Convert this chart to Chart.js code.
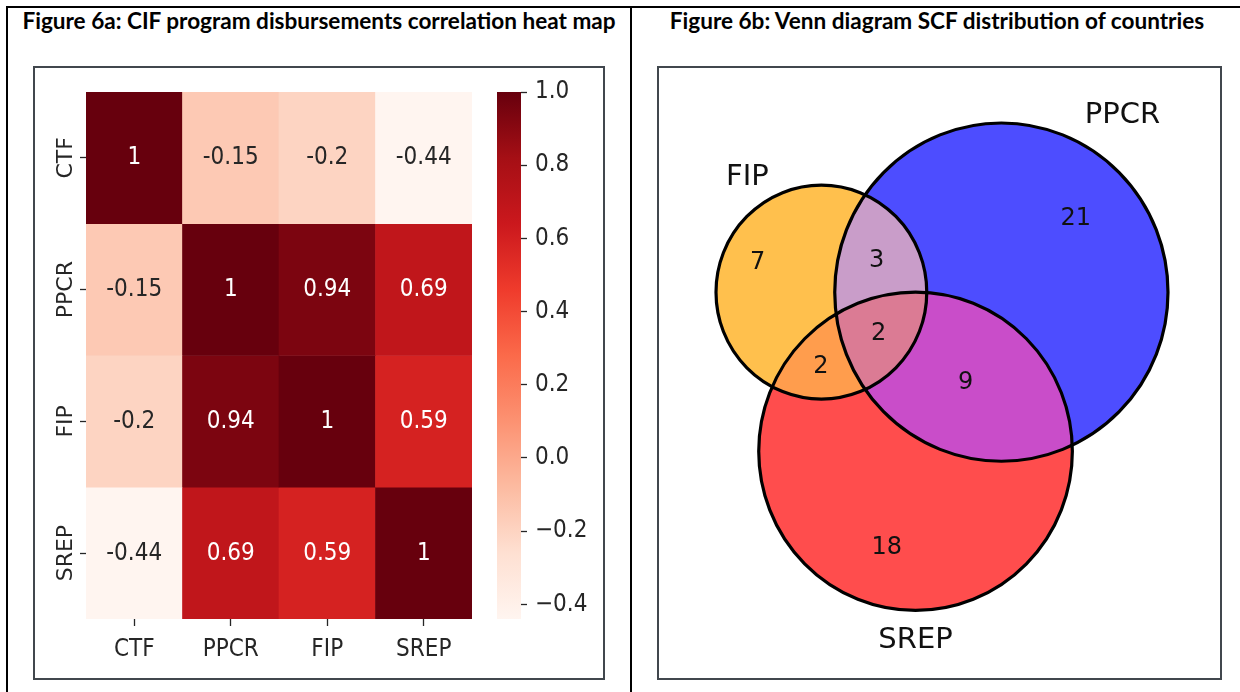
<!DOCTYPE html>
<html><head><meta charset="utf-8">
<script src="https://cdn.jsdelivr.net/npm/chart.js@4.4.1/dist/chart.umd.min.js"></script>
<style>
html,body{margin:0;padding:0;background:#fff;}
body{width:1240px;height:692px;overflow:hidden;position:relative;}
.line{position:absolute;background:#000;}
.title{position:absolute;font-family:Lato,'Liberation Sans',sans-serif;font-weight:700;white-space:nowrap;color:#000;line-height:1;transform:translateX(-50%);}
.frame{position:absolute;border:2px solid #41474d;box-sizing:border-box;}
.box{position:absolute;}
</style></head><body>
<div class="line" style="left:6px;top:6px;width:1240px;height:2px"></div>
<div class="line" style="left:6px;top:6px;width:2px;height:700px"></div>
<div class="line" style="left:630px;top:6px;width:2px;height:700px"></div>
<div class="title" id="t1" style="left:319px"></div>
<div class="title" id="t2" style="left:937px"></div>
<div class="frame" style="left:33px;top:66px;width:572px;height:614px"></div>
<div class="frame" style="left:657px;top:66px;width:565px;height:614px"></div>
<div class="box" style="left:35px;top:68px;width:569px;height:610px"><canvas id="heat"></canvas></div>
<div class="box" style="left:480px;top:68px;width:122px;height:610px"><canvas id="cbar"></canvas></div>
<div class="box" style="left:659px;top:68px;width:562px;height:610px"><canvas id="venn"></canvas></div>
<script>
// ---------------- data ----------------
const titleA = 'Figure 6a: CIF program disbursements correlation heat map';
const titleB = 'Figure 6b: Venn diagram SCF distribution of countries';
const programs = ['CTF', 'PPCR', 'FIP', 'SREP'];
const corrCTF  = [1, -0.15, -0.2, -0.44];
const corrPPCR = [-0.15, 1, 0.94, 0.69];
const corrFIP  = [-0.2, 0.94, 1, 0.59];
const corrSREP = [-0.44, 0.69, 0.59, 1];
const colorbarTicks = [1.0, 0.8, 0.6, 0.4, 0.2, 0.0, -0.2, -0.4];
const vennSetLabels = ['FIP', 'PPCR', 'SREP'];
const vennRegionKeys = ['100', '010', '110', '001', '101', '011', '111'];
const vennRegionCounts = [7, 21, 3, 18, 2, 9, 2];

// ---------------- styles ----------------
const COND = "'DejaVu Sans Condensed','DejaVu Sans',sans-serif";
const DJV = "'DejaVu Sans',sans-serif";
const TXT = '#262626';
const HFS = 24;
Chart.defaults.font.family = COND;
Chart.defaults.color = TXT;
Chart.defaults.animation = false;
Chart.defaults.events = [];
Chart.defaults.plugins.legend.display = false;
Chart.defaults.plugins.tooltip.enabled = false;

// titles
(function(){
  const t1 = document.getElementById('t1'), t2 = document.getElementById('t2');
  t1.textContent = titleA; t2.textContent = titleB;
  const mc = document.createElement('canvas').getContext('2d');
  mc.font = "700 100px Lato, 'Liberation Sans', sans-serif";
  const w = mc.measureText(titleA).width;
  const fs = 100 * 594 / w;
  [t1, t2].forEach(t => { t.style.fontSize = fs + 'px'; t.style.top = (21.5 - 0.529 * fs) + 'px'; });
})();

// ---------------- heat map ----------------
const REDS = [[255,245,240],[254,224,210],[252,187,161],[252,146,114],[251,106,74],[239,59,44],[203,24,29],[165,15,21],[103,0,13]];
function reds(t){
  t = Math.max(0, Math.min(1, t));
  const p = t * 8, i = Math.min(7, Math.floor(p)), f = p - i;
  return REDS[i].map((v, k) => v + (REDS[i+1][k] - v) * f);
}
const css = c => `rgb(${c.map(Math.round).join(',')})`;
const matrix = [corrCTF, corrPPCR, corrFIP, corrSREP];
const allVals = matrix.flat();
const vmin = Math.min(...allVals), vmax = Math.max(...allVals);
const norm = v => (v - vmin) / (vmax - vmin);
function lum(c){
  const l = c.map(v => { v /= 255; return v <= 0.03928 ? v / 12.92 : Math.pow((v + 0.055) / 1.055, 2.4); });
  return 0.2126 * l[0] + 0.7152 * l[1] + 0.0722 * l[2];
}
const fmt2g = v => Number(v.toPrecision(2)).toString();

const annotPlugin = {
  id: 'annot',
  afterDatasetsDraw(chart){
    const ctx = chart.ctx; const fs = HFS;
    ctx.save();
    ctx.font = `${fs}px ${COND}`; ctx.textAlign = 'center'; ctx.textBaseline = 'alphabetic';
    matrix.forEach((row, r) => {
      const meta = chart.getDatasetMeta(r);
      row.forEach((v, c) => {
        const pt = meta.data[c].getCenterPoint();
        ctx.fillStyle = lum(reds(norm(v))) > 0.408 ? TXT : '#ffffff';
        ctx.fillText(fmt2g(v), pt.x, pt.y + 0.27 * fs);
      });
    });
    ctx.restore();
  }
};

new Chart(document.getElementById('heat'), {
  type: 'bar',
  data: {
    labels: programs,
    datasets: matrix.map((row, r) => ({
      label: programs[r],
      data: row.map(() => [r, r + 1]),
      backgroundColor: row.map(v => css(reds(norm(v)))),
      borderWidth: 0, barPercentage: 1, categoryPercentage: 1, grouped: false
    }))
  },
  options: {
    responsive: true, maintainAspectRatio: false,
    layout: { padding: { left: 0, right: 132, top: 24, bottom: 0 } },
    scales: {
      x: {
        offset: true,
        grid: { display: true, offset: false, drawOnChartArea: false, drawTicks: true, tickLength: 7, tickWidth: 1.3, tickColor: TXT },
        border: { display: false },
        ticks: { font: { size: HFS }, padding: 9, maxRotation: 0, autoSkip: false },
        afterFit(s){ s.height = 59; }
      },
      y: {
        type: 'linear', min: 0, max: 4, reverse: true,
        afterBuildTicks(s){ s.ticks = programs.map((_, i) => ({ value: i + 0.5 })); },
        grid: { display: true, drawOnChartArea: false, drawTicks: true, tickLength: 6, tickWidth: 1.3, tickColor: TXT },
        border: { display: false },
        ticks: { callback: (v, i) => programs[i], minRotation: 90, maxRotation: 90, crossAlign: 'center', padding: -15, autoSkip: false, font: { family: DJV, size: 22 } },
        afterFit(s){ s.width = 51; }
      }
    }
  },
  plugins: [annotPlugin]
});

// ---------------- colorbar ----------------
new Chart(document.getElementById('cbar'), {
  type: 'bar',
  data: {
    labels: ['corr'],
    datasets: [{
      data: [[vmin, vmax]],
      backgroundColor(ctx){
        const ch = ctx.chart; if (!ch.chartArea) return '#fff';
        const y = ch.scales.y;
        const g = ch.ctx.createLinearGradient(0, y.getPixelForValue(vmin), 0, y.getPixelForValue(vmax));
        REDS.forEach((c, i) => g.addColorStop(i / 8, css(c)));
        return g;
      },
      borderWidth: 0, barPercentage: 1, categoryPercentage: 1
    }]
  },
  options: {
    responsive: true, maintainAspectRatio: false,
    layout: { padding: { left: 17, right: 0, top: 24, bottom: 59 } },
    scales: {
      x: { display: false },
      y: {
        position: 'right', min: vmin, max: vmax,
        afterBuildTicks(s){ s.ticks = colorbarTicks.filter(v => v >= vmin && v <= vmax).map(v => ({ value: v })); },
        grid: { display: true, drawOnChartArea: false, drawTicks: true, tickLength: 6, tickWidth: 1.3, tickColor: TXT },
        border: { display: false },
        ticks: { padding: 8, font: { size: HFS }, callback: v => (v < 0 ? '\u2212' : '') + Math.abs(v).toFixed(1) },
        afterFit(s){ s.width = 81; }
      }
    }
  }
});

// ---------------- Venn (area-proportional, matplotlib_venn style) ----------------
const S = vennRegionCounts;
const setArea = [S[0]+S[2]+S[4]+S[6], S[1]+S[2]+S[5]+S[6], S[3]+S[4]+S[5]+S[6]];
const vennRadii = setArea.map(a => Math.sqrt(a / Math.PI));
function lensArea(r1, r2, d){
  if (d >= r1 + r2) return 0;
  if (d <= Math.abs(r1 - r2)) return Math.PI * Math.min(r1, r2) ** 2;
  const a1 = Math.acos((d*d + r1*r1 - r2*r2) / (2*d*r1));
  const a2 = Math.acos((d*d + r2*r2 - r1*r1) / (2*d*r2));
  return r1*r1*a1 + r2*r2*a2 - 0.5*Math.sqrt((-d+r1+r2)*(d+r1-r2)*(d-r1+r2)*(d+r1+r2));
}
function findDist(r1, r2, area){
  let lo = Math.abs(r1 - r2), hi = r1 + r2;
  for (let k = 0; k < 200; k++){ const m = (lo + hi) / 2; if (lensArea(r1, r2, m) > area) lo = m; else hi = m; }
  return (lo + hi) / 2;
}
const [rA, rB, rC] = vennRadii;
const dAB = findDist(rA, rB, S[2] + S[6]);
const dAC = findDist(rA, rC, S[4] + S[6]);
const dBC = findDist(rB, rC, S[5] + S[6]);
const cxC = (dAC*dAC - dBC*dBC + dAB*dAB) / (2*dAB);
const cyC = -Math.sqrt(Math.max(0, dAC*dAC - cxC*cxC));
const vennCenters = [[0, 0], [dAB, 0], [cxC, cyC]];

// region label positions (arc-midpoint heuristic)
function regionLabel(key){
  const mask = key.split('').map(ch => ch === '1');
  const mids = []; let own = null;
  for (let i = 0; i < 3; i++){
    const N = 3600, ok = [];
    for (let k = 0; k < N; k++){
      const t = 2 * Math.PI * k / N;
      const px = vennCenters[i][0] + vennRadii[i] * Math.cos(t), py = vennCenters[i][1] + vennRadii[i] * Math.sin(t);
      let good = true;
      for (let j = 0; j < 3; j++){
        if (j === i) continue;
        const inside = Math.hypot(px - vennCenters[j][0], py - vennCenters[j][1]) < vennRadii[j];
        if (inside !== mask[j]) { good = false; break; }
      }
      ok.push(good);
    }
    if (!ok.some(Boolean)) continue;
    let start = -1;
    for (let k = 0; k < N; k++) if (ok[k] && !ok[(k - 1 + N) % N]) { start = k; break; }
    let len = N; if (start < 0) start = 0; else { len = 0; while (len < N && ok[(start + len) % N]) len++; }
    const mt = 2 * Math.PI * (start + (len - 1) / 2) / N;
    const m = [vennCenters[i][0] + vennRadii[i] * Math.cos(mt), vennCenters[i][1] + vennRadii[i] * Math.sin(mt)];
    mids.push(m);
    if (mask[i] && mask.filter(Boolean).length === 1) own = m;
  }
  const mean = [mids.reduce((s, m) => s + m[0], 0) / mids.length, mids.reduce((s, m) => s + m[1], 0) / mids.length];
  return own ? [(own[0] + mean[0]) / 2, (own[1] + mean[1]) / 2] : mean;
}
const vennLabelPts = vennRegionKeys.map(regionLabel);
const vennSetLabelPts = [
  [vennCenters[0][0] - vennRadii[0] / 2, vennCenters[0][1] + vennRadii[0]],
  [vennCenters[1][0] + vennRadii[1] / 2, vennCenters[1][1] + vennRadii[1]],
  [vennCenters[2][0], vennCenters[2][1] - vennRadii[2] * 1.1]
];

// region colours (matplotlib_venn mixing, alpha 0.7 on white)
const setRGB = [[1, 0.647, 0], [0, 0, 1], [1, 0, 0]];
function regionColor(key){
  const cols = key.split('').map((ch, i) => ch === '1' ? setRGB[i] : null).filter(Boolean);
  const k = cols.length === 1 ? 1 : (cols.length === 2 ? 0.7 : 0.4);
  const c = [0, 1, 2].map(ch => Math.min(1, k * cols.reduce((s, col) => s + col[ch], 0)));
  return `rgb(${c.map(v => Math.round(255 * (0.7 * v + 0.3))).join(',')})`;
}

// fit bbox into the target plot area (picture is slightly taller than wide)
const bx0 = Math.min(...vennCenters.map((c, i) => c[0] - vennRadii[i]));
const bx1 = Math.max(...vennCenters.map((c, i) => c[0] + vennRadii[i]));
const by1 = Math.max(...vennCenters.map((c, i) => c[1] + vennRadii[i]));
const VPAD = { left: 57, right: 53, top: 55, bottom: 75 };
const VW = 562 - VPAD.left - VPAD.right, VH = 610 - VPAD.top - VPAD.bottom;
const vScaleX = VW / (bx1 - bx0);
const vScaleY = vScaleX * 1.015;

const vennPlugin = {
  id: 'vennShapes',
  beforeDatasetsDraw(chart){
    const { ctx } = chart, xs = chart.scales.x, ys = chart.scales.y;
    const path = i => {
      const cx = xs.getPixelForValue(vennCenters[i][0]), cy = ys.getPixelForValue(vennCenters[i][1]);
      const rx = xs.getPixelForValue(vennCenters[i][0] + vennRadii[i]) - cx;
      const ry = cy - ys.getPixelForValue(vennCenters[i][1] + vennRadii[i]);
      ctx.beginPath(); ctx.ellipse(cx, cy, rx, ry, 0, 0, Math.PI * 2);
    };
    ctx.save();
    [['100', 0], ['010', 1], ['001', 2]].forEach(([k, i]) => { path(i); ctx.fillStyle = regionColor(k); ctx.fill(); });
    [['110', 0, 1], ['101', 0, 2], ['011', 1, 2]].forEach(([k, i, j]) => {
      ctx.save(); path(i); ctx.clip(); path(j); ctx.fillStyle = regionColor(k); ctx.fill(); ctx.restore();
    });
    ctx.save(); path(0); ctx.clip(); path(1); ctx.clip(); path(2); ctx.fillStyle = regionColor('111'); ctx.fill(); ctx.restore();
    ctx.lineWidth = 3.2; ctx.strokeStyle = '#000';
    [0, 1, 2].forEach(i => { path(i); ctx.stroke(); });
    ctx.restore();
  },
  afterDatasetsDraw(chart){
    const ctx = chart.ctx;
    ctx.save(); ctx.fillStyle = '#111';
    const m0 = chart.getDatasetMeta(0);
    const fs = 24;
    ctx.font = `${fs}px ${DJV}`; ctx.textAlign = 'center'; ctx.textBaseline = 'alphabetic';
    m0.data.forEach((el, i) => ctx.fillText(String(vennRegionCounts[i]), el.x, el.y + 0.276 * fs));
    const m1 = chart.getDatasetMeta(1);
    const fl = 29;
    ctx.font = `${fl}px ${DJV}`;
    m1.data.forEach((el, i) => {
      ctx.textAlign = i === 0 ? 'right' : (i === 1 ? 'left' : 'center');
      const y = i === 2 ? el.y + 0.76 * fl : el.y;
      ctx.fillText(vennSetLabels[i], el.x, y);
    });
    ctx.restore();
  }
};

new Chart(document.getElementById('venn'), {
  type: 'scatter',
  data: {
    datasets: [
      { data: vennLabelPts.map(p => ({ x: p[0], y: p[1] })), pointRadius: 0 },
      { data: vennSetLabelPts.map(p => ({ x: p[0], y: p[1] })), pointRadius: 0 }
    ]
  },
  options: {
    responsive: true, maintainAspectRatio: false,
    layout: { padding: VPAD },
    scales: {
      x: { type: 'linear', display: false, min: bx0, max: bx1 },
      y: { type: 'linear', display: false, max: by1, min: by1 - VH / vScaleY }
    }
  },
  plugins: [vennPlugin]
});
</script>
</body></html>
